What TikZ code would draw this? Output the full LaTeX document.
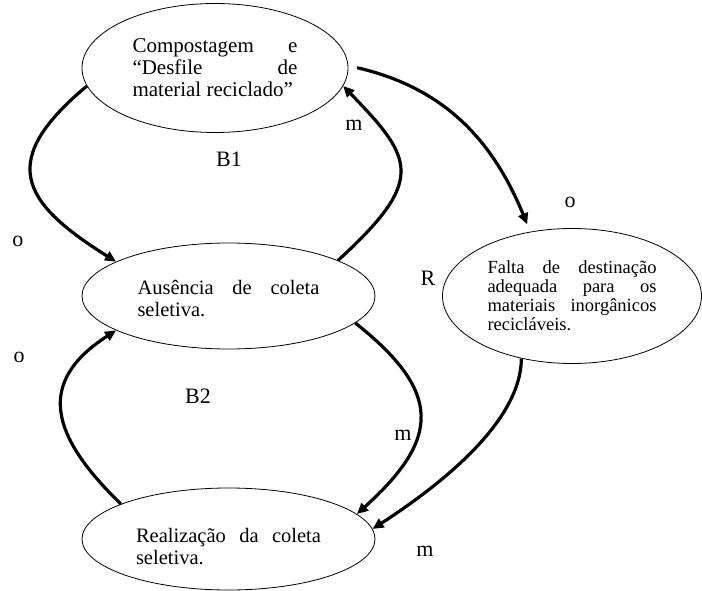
\documentclass[tikz,border=0pt]{standalone}
\usepackage{fontspec}
\setmainfont{Liberation Serif}
\usepackage{tikz}
\usetikzlibrary{arrows.meta,shapes.geometric}
\hyphenpenalty=10000
\exhyphenpenalty=10000
\tolerance=10000
\tikzset{
  ell/.style  ={draw, ellipse, line width=0.8pt, inner sep=0pt, align=justify,
                font=\fontsize{20.5}{22}\selectfont},
  ellsm/.style={ell, font=\fontsize{18.5}{19}\selectfont},
  ar/.style   ={-{Triangle[length=11pt,width=10pt]}, line width=3.2pt},
  lbl/.style  ={inner sep=0pt, font=\fontsize{22}{24}\selectfont},
}

\begin{document}
\begin{tikzpicture}[x=1pt,y=-1pt]
\useasboundingbox (0,0) rectangle (702,591);
% states
\node[ell, minimum width=266pt, minimum height=129pt, text width=165pt,
      font=\fontsize{21}{22}\selectfont] (comp) at (215,68)
  {Compostagem e\linebreak “Desfile de\linebreak material reciclado”};
\node[ell, minimum width=293pt, minimum height=106pt, text width=182pt,
      text depth=18pt] (aus) at (228.5,296)
  {Ausência de coleta\linebreak seletiva.};
\node[ellsm, minimum width=259pt, minimum height=135pt, text width=169pt] (falta) at (572,296)
  {Falta de destinação adequada para os materiais inorgânicos recicláveis.};
\node[ell, minimum width=293pt, minimum height=102pt, text width=185pt,
      text depth=7pt] (real) at (228.5,539)
  {Realização da coleta\linebreak seletiva.};
% loops
\draw[ar] (comp.188) .. controls (-1.5,160) and (19,201) .. (aus.163);
\draw[ar] (aus.18) .. controls (426,180) and (414,159) .. (comp.-8);
\draw[ar, shorten <=9pt, shorten >=8pt] (comp.1) .. controls (445,88) and (493,141) .. (falta.123);
\draw[ar] (aus.-12) .. controls (442,392) and (441,438) .. (real.11);
\draw[ar] (real.162) .. controls (50,435) and (36,382) .. (aus.197);
\draw[ar] (falta.231) .. controls (521,420) and (445,482) .. (real.4);
% polarities
\node[lbl] (m1) at (354,125) {m};
\node[lbl] (b1) at (229,159) {B1};
\node[lbl] (o1) at (570,202) {o};
\node[lbl] (o2) at (18,241) {o};
\node[lbl] (r1) at (428,278) {R};
\node[lbl] (o3) at (19,357) {o};
\node[lbl] (b2) at (198,396) {B2};
\node[lbl] (m2) at (403,435) {m};
\node[lbl] (m3) at (425,551) {m};
\end{tikzpicture}
\end{document}
